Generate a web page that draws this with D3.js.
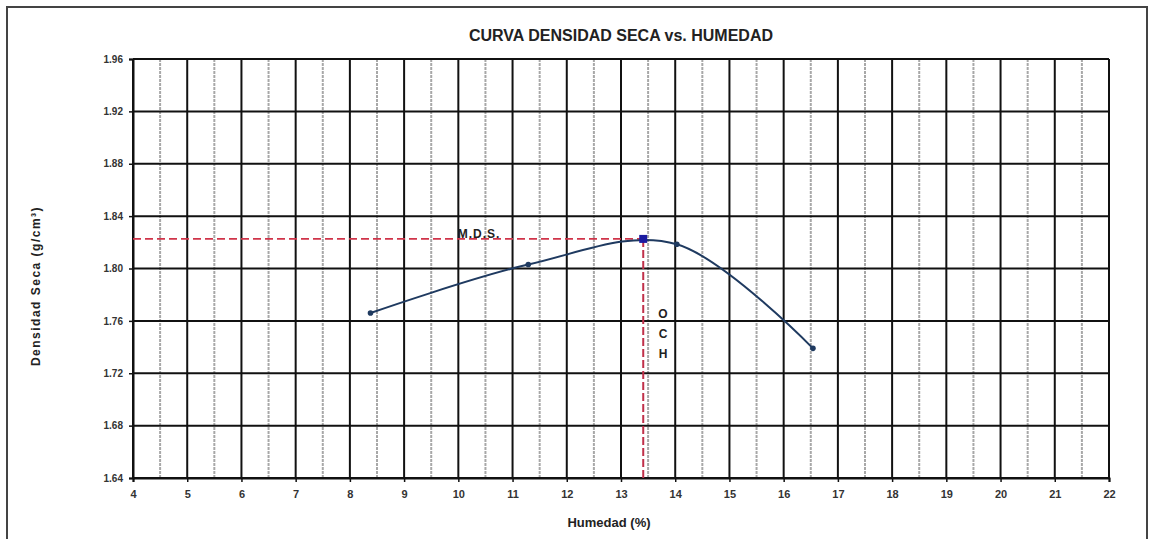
<!DOCTYPE html>
<html>
<head>
<meta charset="utf-8">
<script src="https://cdn.jsdelivr.net/npm/d3@7/dist/d3.min.js"></script>
<style>
  body { margin: 0; background: #fff; }
  text { font-family: "Liberation Sans", Arial, sans-serif; }
</style>
</head>
<body>
<div id="chart"></div>
<script>
// puntos del ensayo proctor
const humedad = [8.38, 11.29, 14.03, 16.54];
const densidad = [1.766, 1.803, 1.8185, 1.739];

// maxima densidad seca / optimo contenido de humedad
const och = 13.41;
const mds = 1.8226;

const xTicks = [4, 5, 6, 7, 8, 9, 10, 11, 12, 13, 14, 15, 16, 17, 18, 19, 20, 21, 22];
const xMinor = [4.5, 5.5, 6.5, 7.5, 8.5, 9.5, 10.5, 11.5, 12.5, 13.5, 14.5, 15.5, 16.5, 17.5, 18.5, 19.5, 20.5, 21.5];
const yTicks = [1.64, 1.68, 1.72, 1.76, 1.80, 1.84, 1.88, 1.92, 1.96];

const width = 1152, height = 539;
const margin = { top: 59, right: 43, bottom: 61, left: 133 };

const svg = d3.select("#chart")
  .append("svg")
  .attr("width", width)
  .attr("height", height);

// marco exterior
svg.append("rect")
  .attr("x", 7).attr("y", 7)
  .attr("width", 1140).attr("height", 560)
  .attr("fill", "none")
  .attr("stroke", "#444")
  .attr("stroke-width", 2);

const x = d3.scaleLinear()
  .domain([4, 22])
  .range([margin.left, width - margin.right]);

const y = d3.scaleLinear()
  .domain([1.64, 1.96])
  .range([height - margin.bottom, margin.top]);

// rejilla secundaria
svg.append("g")
  .selectAll("line")
  .data(xMinor)
  .enter()
  .append("line")
  .attr("x1", d => x(d)).attr("x2", d => x(d))
  .attr("y1", y(1.96)).attr("y2", y(1.64))
  .attr("stroke", "#a8a8a8")
  .attr("stroke-width", 2)
  .attr("stroke-dasharray", "3,1");

// rejilla principal
svg.append("g")
  .selectAll("line")
  .data(xTicks)
  .enter()
  .append("line")
  .attr("x1", d => x(d)).attr("x2", d => x(d))
  .attr("y1", y(1.96)).attr("y2", y(1.64))
  .attr("stroke", "#111")
  .attr("stroke-width", 2);

svg.append("g")
  .selectAll("line")
  .data(yTicks)
  .enter()
  .append("line")
  .attr("x1", x(4)).attr("x2", x(22))
  .attr("y1", d => y(d)).attr("y2", d => y(d))
  .attr("stroke", "#111")
  .attr("stroke-width", 2);

// ejes
const xAxis = svg.append("g")
  .attr("transform", `translate(0, ${y(1.64)})`)
  .call(d3.axisBottom(x).tickValues(xTicks).tickSize(4).tickPadding(8).tickFormat(d3.format("d")));

const yAxis = svg.append("g")
  .attr("transform", `translate(${x(4)}, 0)`)
  .call(d3.axisLeft(y).tickValues(yTicks).tickSize(4).tickPadding(6).tickFormat(d3.format(".2f")));

[xAxis, yAxis].forEach(g => {
  g.select(".domain").attr("stroke", "#111").attr("stroke-width", 2);
  g.selectAll(".tick line").attr("stroke", "#111").attr("stroke-width", 1.5);
  g.selectAll(".tick text")
    .attr("fill", "#333")
    .style("font-weight", "bold")
    .style("font-family", "'Liberation Sans', Arial, sans-serif");
});
xAxis.selectAll(".tick text").style("font-size", "11px");
yAxis.selectAll(".tick text").style("font-size", "10px");

// lineas MDS / OCH
svg.append("line")
  .attr("x1", x(4)).attr("x2", x(och))
  .attr("y1", y(mds)).attr("y2", y(mds))
  .attr("stroke", "#d0344a")
  .attr("stroke-width", 1.6)
  .attr("stroke-dasharray", "8,4");

svg.append("line")
  .attr("x1", x(och)).attr("x2", x(och))
  .attr("y1", y(mds)).attr("y2", y(1.64))
  .attr("stroke", "#c0304a")
  .attr("stroke-width", 2)
  .attr("stroke-dasharray", "8,3");

// curva
const pts = humedad.map((h, i) => [h, densidad[i]]);

const line = d3.line()
  .x(d => x(d[0]))
  .y(d => y(d[1]))
  .curve(d3.curveCardinal.tension(0));

svg.append("path")
  .datum(pts)
  .attr("d", line)
  .attr("fill", "none")
  .attr("stroke", "#1f3a60")
  .attr("stroke-width", 2);

svg.selectAll("circle.pt")
  .data(pts)
  .enter()
  .append("circle")
  .attr("class", "pt")
  .attr("cx", d => x(d[0]))
  .attr("cy", d => y(d[1]))
  .attr("r", 2.8)
  .attr("fill", "#1f3a60");

svg.append("rect")
  .attr("x", x(och) - 4).attr("y", y(mds) - 4)
  .attr("width", 8).attr("height", 8)
  .attr("fill", "#1a1aa0");

// textos
svg.append("text")
  .attr("x", 479).attr("y", 238)
  .attr("text-anchor", "middle")
  .attr("fill", "#222")
  .style("font-size", "12px")
  .style("font-weight", "bold")
  .style("letter-spacing", "1px")
  .text("M.D.S.");

["O", "C", "H"].forEach((c, i) => {
  svg.append("text")
    .attr("x", 663).attr("y", 318 + i * 20)
    .attr("text-anchor", "middle")
    .attr("fill", "#222")
    .style("font-size", "12px")
    .style("font-weight", "bold")
    .text(c);
});

svg.append("text")
  .attr("x", (x(4) + x(22)) / 2)
  .attr("y", 41)
  .attr("text-anchor", "middle")
  .attr("fill", "#222")
  .style("font-size", "16px")
  .style("font-weight", "bold")
  .text("CURVA DENSIDAD SECA vs. HUMEDAD");

svg.append("text")
  .attr("x", 609)
  .attr("y", 527)
  .attr("text-anchor", "middle")
  .attr("fill", "#222")
  .style("font-size", "13px")
  .style("font-weight", "bold")
  .text("Humedad (%)");

svg.append("text")
  .attr("transform", "translate(40, 286) rotate(-90)")
  .attr("text-anchor", "middle")
  .attr("fill", "#222")
  .style("font-size", "12px")
  .style("font-weight", "bold")
  .style("letter-spacing", "1.5px")
  .text("Densidad  Seca (g/cm³)");
</script>
</body>
</html>
